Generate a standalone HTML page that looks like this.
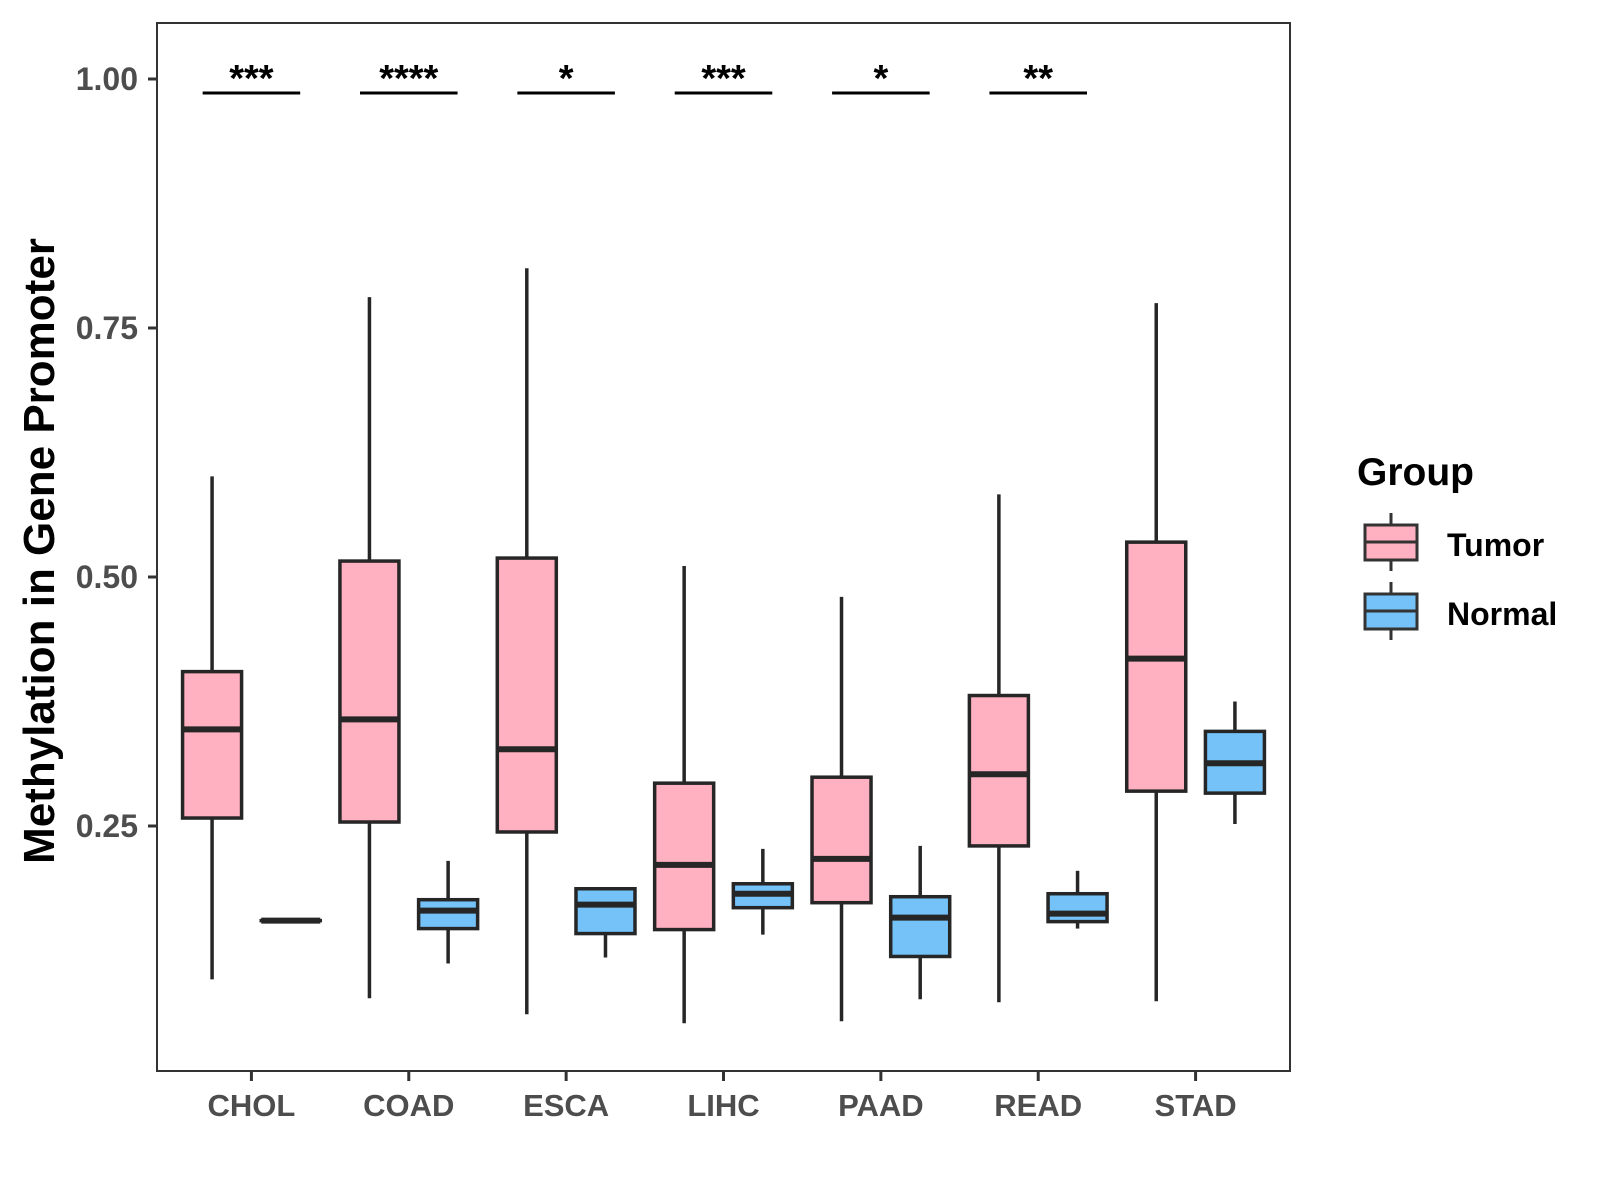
<!DOCTYPE html>
<html><head><meta charset="utf-8"><style>
body{margin:0;background:#fff}
svg{display:block;font-family:"Liberation Sans",Arial,sans-serif;font-weight:bold}
</style></head><body>
<svg id="chart" width="1600" height="1200" viewBox="0 0 1600 1200">
<rect x="157" y="23" width="1133" height="1048" fill="#fff" stroke="#333" stroke-width="2"/>
<g id="marks"></g>
<text x="54" y="551" transform="rotate(-90 54 551)" text-anchor="middle" font-size="44" fill="#000">Methylation in Gene Promoter</text>
<g>
<text x="1357" y="485" font-size="39" fill="#000">Group</text>
<g>
<line x1="1391" y1="513" x2="1391" y2="571" stroke="#333" stroke-width="3"/>
<rect x="1365" y="525" width="52" height="35" fill="#FFB0C1" stroke="#333" stroke-width="3"/>
<line x1="1365" y1="542" x2="1417" y2="542" stroke="#333" stroke-width="3"/>
<text x="1447" y="556" font-size="32" fill="#000">Tumor</text>
</g>
<g>
<line x1="1391" y1="582" x2="1391" y2="640" stroke="#333" stroke-width="3"/>
<rect x="1365" y="594" width="52" height="35" fill="#74C2F8" stroke="#333" stroke-width="3"/>
<line x1="1365" y1="611" x2="1417" y2="611" stroke="#333" stroke-width="3"/>
<text x="1447" y="625" font-size="32" fill="#000">Normal</text>
</g>
</g>
</svg>
<script>
const categories=["CHOL","COAD","ESCA","LIHC","PAAD","READ","STAD"];
const tumorStats=[[0.096,0.258,0.347,0.405,0.601],[0.077,0.254,0.357,0.516,0.781],[0.061,0.244,0.327,0.519,0.810],[0.052,0.146,0.211,0.293,0.511],[0.054,0.173,0.217,0.299,0.480],[0.073,0.230,0.302,0.381,0.583],[0.074,0.285,0.418,0.535,0.775]];
const normalStats=[[0.155,0.155,0.155,0.155,0.155],[0.112,0.147,0.165,0.176,0.215],[0.118,0.142,0.171,0.187,0.188],[0.141,0.168,0.182,0.192,0.227],[0.076,0.119,0.158,0.179,0.230],[0.147,0.154,0.162,0.182,0.205],[0.252,0.283,0.313,0.345,0.375]];
const yTicks=[0.25,0.5,0.75,1.0];
const yTickLabels=["0.25","0.50","0.75","1.00"];
const sigLabels=["***","****","*","***","*","**",""];
const sigLevel=0.986;

const NS="http://www.w3.org/2000/svg";
const g=document.getElementById('marks');
const unit=1133/7.2;
function x(i){return 157+(0.6+i)*unit;}
function y(v){return 79+(1-v)*996;}
function mk(tag,attrs,parent){const e=document.createElementNS(NS,tag);for(const k in attrs)e.setAttribute(k,attrs[k]);(parent||g).appendChild(e);return e;}

yTicks.forEach((t,i)=>{
  const tk=mk('line',{x1:148,x2:157,y1:y(t),y2:y(t),stroke:'#333','stroke-width':3});
  
  
  const lb=mk('text',{x:138,y:y(t)+11,'text-anchor':'end','font-size':32,fill:'#4d4d4d'});
  lb.textContent=yTickLabels[i];
  
  
});
categories.forEach((c,i)=>{
  const tk=mk('line',{x1:x(i),x2:x(i),y1:1071,y2:1081,stroke:'#333','stroke-width':3});
  
  
  const lb=mk('text',{x:x(i),y:1116,'text-anchor':'middle','font-size':31,fill:'#4d4d4d'});
  lb.textContent=c;
  
  
});
function box(cx,s,fill,name){
  const grp=mk('g',{});
  
  
  const w=0.375*unit;
  mk('line',{x1:cx,x2:cx,y1:y(s[0]),y2:y(s[4]),stroke:'#262626','stroke-width':3.5},grp);
  mk('rect',{x:cx-w/2,y:y(s[3]),width:w,height:Math.max(y(s[1])-y(s[3]),0.01),fill:fill,stroke:'#262626','stroke-width':3.5},grp);
  mk('line',{x1:cx-w/2,x2:cx+w/2,y1:y(s[2]),y2:y(s[2]),stroke:'#262626','stroke-width':6},grp);
}
categories.forEach((c,i)=>{
  box(x(i)-0.25*unit,tumorStats[i],'#FFB0C1','box-tumor-'+c.toLowerCase());
  box(x(i)+0.25*unit,normalStats[i],'#74C2F8','box-normal-'+c.toLowerCase());
  if(sigLabels[i]){
    const ln=mk('line',{x1:x(i)-0.31*unit,x2:x(i)+0.31*unit,y1:y(sigLevel),y2:y(sigLevel),stroke:'#000','stroke-width':3});
    
    
    const t=mk('text',{x:x(i),y:y(sigLevel)-2,'text-anchor':'middle','font-size':38,fill:'#000'});
    t.textContent=sigLabels[i];
    
    
  }
});
</script>
</body></html>
